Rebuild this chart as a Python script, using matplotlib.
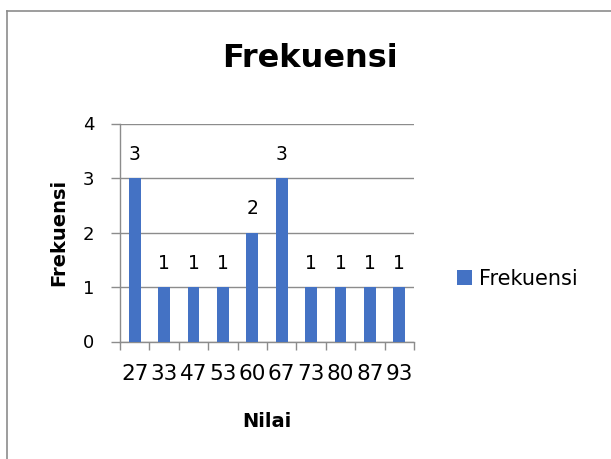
import matplotlib
matplotlib.use("Agg")
import matplotlib.pyplot as plt
from matplotlib.lines import Line2D
from matplotlib.patches import Patch

categories = ["27", "33", "47", "53", "60", "67", "73", "80", "87", "93"]
frekuensi = [3, 1, 1, 1, 2, 3, 1, 1, 1, 1]
y_ticks = [0, 1, 2, 3, 4]

W, H = 611, 459
plt.rcParams['font.family'] = ['DejaVu Sans']
fig = plt.figure(figsize=(W / 100, H / 100), dpi=100)
fig.patch.set_facecolor('white')

ax = fig.add_axes([120 / W, 1 - 341.5 / H, (414 - 120) / W, (341.5 - 123.5) / H])
x = list(range(len(categories)))
bar_color = '#4472C4'
grid_color = '#8c8c8c'
ax.bar(x, frekuensi, width=0.4, color=bar_color, zorder=3)
ax.set_xlim(-0.5, len(categories) - 0.5)
ax.set_ylim(0, 4)
ax.set_yticks(y_ticks)
ax.yaxis.grid(True, color=grid_color, linewidth=1.0, zorder=0)
for s in ['top', 'right']:
    ax.spines[s].set_visible(False)
for s in ['left', 'bottom']:
    ax.spines[s].set_color(grid_color)
    ax.spines[s].set_linewidth(1.0)

ax.set_xticks(x)
ax.set_xticklabels(categories, fontsize=15.5)
ax.set_xticks([i - 0.5 for i in range(len(categories) + 1)], minor=True)
ax.tick_params(axis='x', which='major', length=0, pad=16)
ax.tick_params(axis='x', which='minor', length=5.8, width=1.0, color=grid_color, direction='out')
ax.tick_params(axis='y', which='major', length=6.5, width=1.0, color=grid_color, labelsize=13, pad=12)

for xi, v in zip(x, frekuensi):
    ax.annotate(str(v), (xi, v), xytext=(0, 13), textcoords='offset points',
                ha='center', va='baseline', fontsize=13.5)

fig.text(310 / W, 1 - 66.7 / H, "Frekuensi", ha='center', va='baseline',
         fontsize=23, fontweight='bold')
fig.text(59 / W, 1 - 232 / H, "Frekuensi", ha='center', va='center', rotation=90,
         fontsize=14, fontweight='bold')
fig.text(267 / W, 1 - 427 / H, "Nilai", ha='center', va='baseline',
         fontsize=14, fontweight='bold')

handle = Patch(facecolor=bar_color, edgecolor='none')
fig.legend([handle], ["Frekuensi"], loc='center left',
           bbox_to_anchor=(457 / W, 1 - 279 / H), frameon=False, fontsize=15,
           handlelength=0.72, handleheight=0.72, handletextpad=0.34,
           borderpad=0, borderaxespad=0)

# chart border (top and left visible)
fig.add_artist(Line2D([7.5 / W, 1], [1 - 11 / H, 1 - 11 / H], color='#8c8c8c', linewidth=1.2))
fig.add_artist(Line2D([7.5 / W, 7.5 / W], [0, 1 - 11 / H], color='#8c8c8c', linewidth=1.2))

fig.savefig("out.png", dpi=100)
